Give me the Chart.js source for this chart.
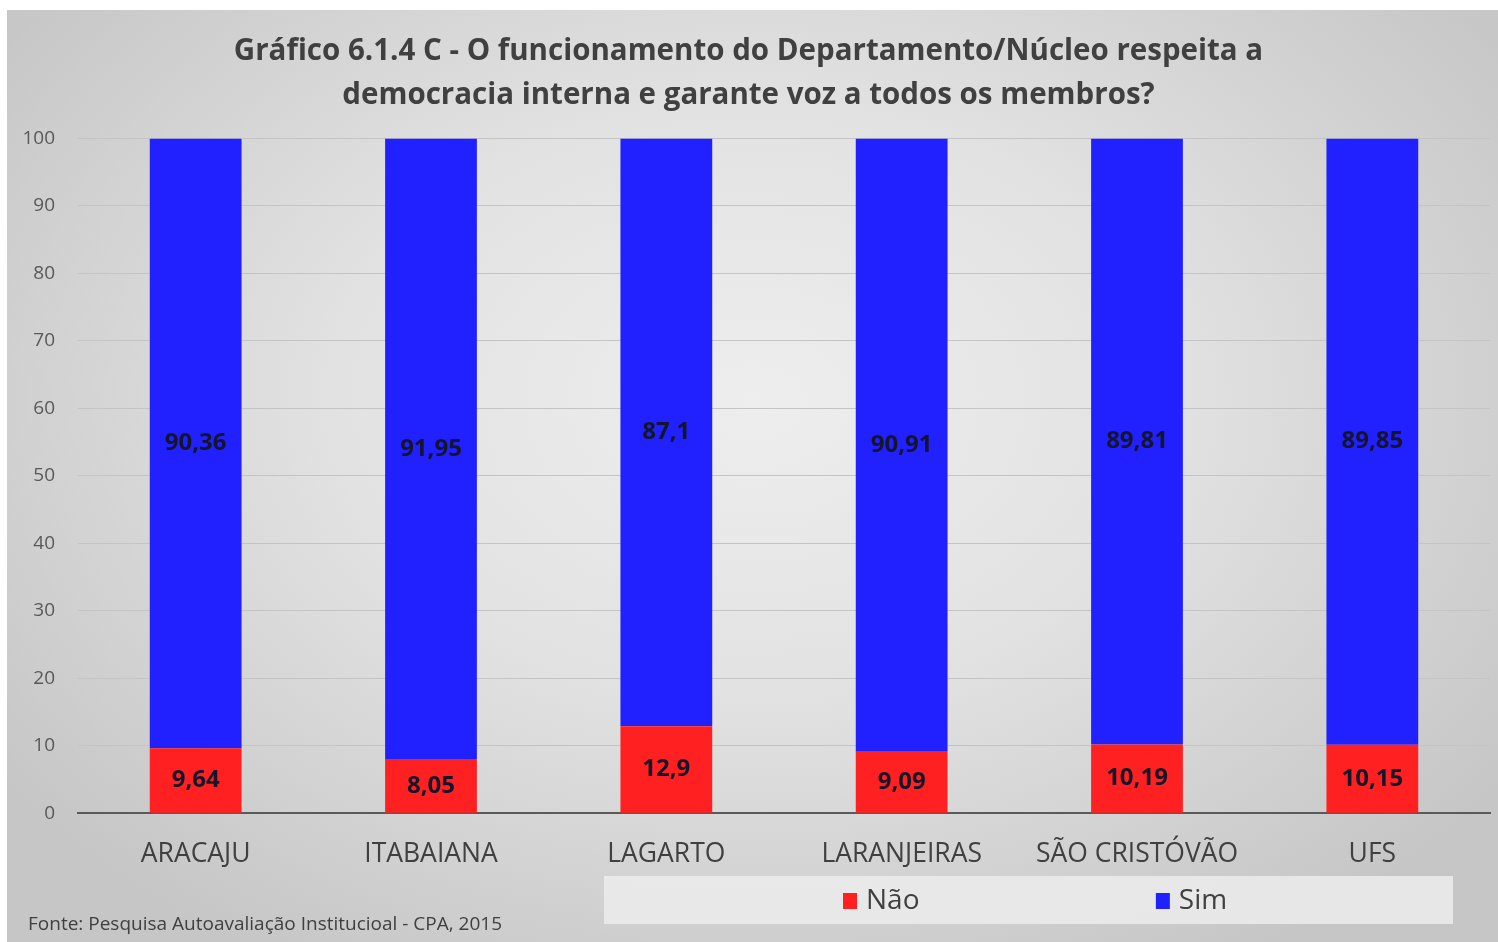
<!DOCTYPE html>
<html>
<head>
<meta charset="utf-8">
<script src="https://cdn.jsdelivr.net/npm/chart.js@4.4.1/dist/chart.umd.min.js"></script>
<style>
  html, body { margin: 0; padding: 0; background: #ffffff; }
  #wrap {
    position: absolute; left: 7px; top: 10px; width: 1491px; height: 932px;
    background: radial-gradient(ellipse 62% 70% at 50% 42%, #eeeeee 0%, #e2e2e2 45%, #c6c6c6 100%);
  }
</style>
</head>
<body>
<div id="wrap"><canvas id="c" width="1491" height="932"></canvas></div>
<script>
const categories = ['ARACAJU', 'ITABAIANA', 'LAGARTO', 'LARANJEIRAS', 'SÃO CRISTÓVÃO', 'UFS'];
const naoValues = [9.64, 8.05, 12.9, 9.09, 10.19, 10.15];
const simValues = [90.36, 91.95, 87.1, 90.91, 89.81, 89.85];
const titleLines = ['Gráfico 6.1.4 C - O funcionamento do Departamento/Núcleo respeita a', 'democracia interna e garante voz a todos os membros?'];
const sourceText = 'Fonte: Pesquisa Autoavaliação Institucioal - CPA, 2015';

const FONT = "'Open Sans', 'Liberation Sans', sans-serif";

const valueLabels = {
  id: 'valueLabels',
  afterDatasetsDraw(chart) {
    const ctx = chart.ctx;
    ctx.save();
    ctx.font = 'bold 24px ' + FONT;
    ctx.fillStyle = '#15152a';
    ctx.textAlign = 'center';
    ctx.textBaseline = 'middle';
    chart.data.datasets.forEach((ds, i) => {
      const meta = chart.getDatasetMeta(i);
      meta.data.forEach((bar, j) => {
        const v = ds.data[j];
        const y = (bar.y + bar.base) / 2;
        ctx.fillText(String(v).replace('.', ','), bar.x, y);
      });
    });
    ctx.restore();
  }
};

const legendBox = {
  id: 'legendBox',
  afterDraw(chart) {
    const ctx = chart.ctx;
    ctx.save();
    const bx = 597, by = 866, bw = 849, bh = 48;
    ctx.fillStyle = 'rgba(236,236,236,0.85)';
    ctx.fillRect(bx, by, bw, bh);
    const xs = [bx + 0.2815 * bw, bx + 0.650 * bw];
    ctx.font = '28px ' + FONT;
    ctx.textBaseline = 'middle';
    ctx.textAlign = 'left';
    chart.data.datasets.forEach((ds, i) => {
      const cy = by + bh / 2 + 1;
      ctx.fillStyle = ds.backgroundColor;
      ctx.fillRect(xs[i], cy - 8, 14, 16);
      ctx.fillStyle = '#404040';
      ctx.fillText(ds.label, xs[i] + 23, cy);
    });
    ctx.font = '19px ' + FONT;
    ctx.fillStyle = '#404040';
    ctx.fillText(sourceText, 21, 915);
    ctx.restore();
  }
};

new Chart(document.getElementById('c'), {
  type: 'bar',
  data: {
    labels: categories,
    datasets: [
      { label: 'Não', data: naoValues, backgroundColor: '#ff2121', barPercentage: 0.39, categoryPercentage: 1 },
      { label: 'Sim', data: simValues, backgroundColor: '#2121ff', barPercentage: 0.39, categoryPercentage: 1 }
    ]
  },
  options: {
    responsive: false,
    animation: false,
    layout: { padding: { left: 0, right: 8, top: 0, bottom: 47 } },
    plugins: {
      legend: { display: false },
      tooltip: { enabled: false },
      title: {
        display: true,
        text: titleLines,
        color: '#404040',
        font: { family: FONT, size: 29.5, weight: 'bold', lineHeight: 1.5 },
        padding: { top: 19, bottom: 21 }
      }
    },
    scales: {
      x: {
        stacked: true,
        grid: { display: false, drawTicks: false },
        border: { color: '#5a5a5a', width: 2 },
        ticks: { color: '#404040', font: { family: FONT, size: 26.5 }, padding: 25, maxRotation: 0, autoSkip: false }
      },
      y: {
        stacked: true,
        min: 0, max: 100,
        afterFit(scale) { scale.width = 71; },
        grid: { color: '#c4c4c4', lineWidth: 1, drawTicks: false },
        border: { display: false },
        ticks: { stepSize: 10, color: '#595959', font: { family: FONT, size: 19 }, padding: 23 }
      }
    }
  },
  plugins: [valueLabels, legendBox]
});
</script>
</body>
</html>
